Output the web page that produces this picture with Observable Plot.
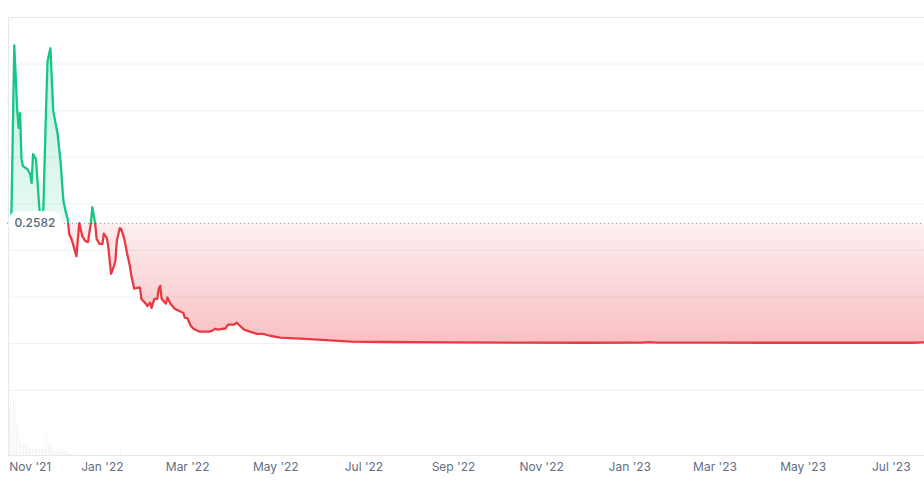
<!DOCTYPE html>
<html><head><meta charset="utf-8">
<script src="https://cdn.jsdelivr.net/npm/d3@7"></script>
<script src="https://cdn.jsdelivr.net/npm/@observablehq/plot@0.6"></script>
<style>
body{margin:0;background:#fff;font-family:Inter, "Noto Sans", sans-serif}
#wrap{position:relative;width:924px;height:492px;overflow:hidden}
#wrap svg{position:absolute;left:0;top:0}
</style></head><body><div id="wrap"></div>
<script>
// ---- data ----
const baseline = 0.2582;
const xStart = "2021-10-28", xEnd = "2023-07-24";

const priceDates = [
 "2021-10-28","2021-10-29","2021-10-30","2021-11-01","2021-11-03","2021-11-04","2021-11-05","2021-11-06","2021-11-07","2021-11-10",
 "2021-11-12","2021-11-13","2021-11-14","2021-11-16","2021-11-18","2021-11-19","2021-11-21","2021-11-23","2021-11-24","2021-11-26",
 "2021-11-28","2021-12-01","2021-12-03","2021-12-05","2021-12-07","2021-12-08","2021-12-09","2021-12-11","2021-12-12","2021-12-14",
 "2021-12-16","2021-12-18","2021-12-20","2021-12-22","2021-12-24","2021-12-25","2021-12-27","2021-12-28","2021-12-30","2022-01-01",
 "2022-01-02","2022-01-04","2022-01-05","2022-01-07","2022-01-09","2022-01-10","2022-01-11","2022-01-13","2022-01-14","2022-01-16",
 "2022-01-18","2022-01-20","2022-01-21","2022-01-23","2022-01-25","2022-01-27","2022-01-28","2022-01-31","2022-02-01","2022-02-03",
 "2022-02-04","2022-02-06","2022-02-08","2022-02-09","2022-02-10","2022-02-11","2022-02-14","2022-02-15","2022-02-17","2022-02-20",
 "2022-02-24","2022-02-26","2022-02-27","2022-03-01","2022-03-03","2022-03-05","2022-03-09","2022-03-12","2022-03-16","2022-03-18",
 "2022-03-20","2022-03-22","2022-03-25","2022-03-27","2022-03-29","2022-04-02","2022-04-04","2022-04-06","2022-04-09","2022-04-13",
 "2022-04-18","2022-04-22","2022-04-27","2022-05-04","2022-05-18","2022-05-30","2022-06-22","2022-07-15","2022-08-30","2022-10-15",
 "2022-12-01","2023-01-10","2023-01-14","2023-01-20","2023-03-01","2023-04-15","2023-06-01","2023-07-15","2023-07-24"
];
const priceValues = [
 0.2582,0.262,0.275,0.640,0.503,0.463,0.495,0.396,0.381,0.375,
 0.364,0.345,0.407,0.396,0.306,0.268,0.278,0.505,0.606,0.634,
 0.499,0.450,0.392,0.306,0.278,0.268,0.236,0.221,0.210,0.188,
 0.259,0.231,0.221,0.218,0.259,0.293,0.257,0.225,0.214,0.214,
 0.236,0.227,0.210,0.150,0.167,0.178,0.221,0.248,0.246,0.227,
 0.195,0.167,0.146,0.118,0.120,0.120,0.096,0.086,0.081,0.088,
 0.077,0.096,0.096,0.118,0.124,0.096,0.086,0.099,0.086,0.075,
 0.069,0.066,0.056,0.054,0.039,0.032,0.026,0.026,0.026,0.028,
 0.032,0.030,0.032,0.032,0.041,0.041,0.045,0.039,0.030,0.026,
 0.021,0.021,0.017,0.013,0.011,0.0086,0.0043,0.0036,0.0028,0.0022,
 0.0020,0.0022,0.0035,0.0024,0.0021,0.0020,0.0020,0.0020,0.0026
];

const volDates = [
 "2021-10-28","2021-10-29","2021-10-30","2021-10-31","2021-11-01","2021-11-02","2021-11-03","2021-11-04","2021-11-05","2021-11-06",
 "2021-11-07","2021-11-08","2021-11-09","2021-11-10","2021-11-11","2021-11-12","2021-11-13","2021-11-14","2021-11-15","2021-11-16",
 "2021-11-17","2021-11-18","2021-11-19","2021-11-20","2021-11-21","2021-11-22","2021-11-23","2021-11-24","2021-11-25","2021-11-26",
 "2021-11-27","2021-11-28","2021-11-29","2021-11-30","2021-12-01","2021-12-02","2021-12-03","2021-12-04","2021-12-05","2021-12-06",
 "2021-12-07","2021-12-08","2021-12-09","2021-12-10","2021-12-11","2021-12-12","2021-12-13","2021-12-15","2021-12-18","2021-12-23",
 "2021-12-30","2022-01-03","2022-01-06","2022-01-09","2022-01-12","2022-01-13","2022-01-16","2022-01-22","2022-02-10","2022-02-17",
 "2022-03-10","2023-01-14"
];
const volValues = [
 4.8,5.2,2.6,6.3,5.5,3.2,3.0,1.9,1.2,1.1,
 1.0,1.1,1.1,0.6,0.7,0.7,1.0,0.6,0.7,0.7,
 0.6,0.6,0.6,0.6,0.8,0.9,2.6,1.3,1.3,1.3,
 0.7,0.5,0.5,0.7,0.7,0.4,0.4,0.7,0.5,0.4,
 0.3,0.2,0.2,0.15,0.15,0.2,0.15,0.3,0.15,0.15,
 0.1,0.15,0.2,0.25,0.4,0.6,0.2,0.15,0.1,0.1,
 0.1,0.08
];

const tickDates = ["2021-11-01","2022-01-01","2022-03-01","2022-05-01","2022-07-01","2022-09-01","2022-11-01","2023-01-01","2023-03-01","2023-05-01","2023-07-01"];
const tickLabels = ["Nov '21","Jan '22","Mar '22","May '22","Jul '22","Sep '22","Nov '22","Jan '23","Mar '23","May '23","Jul '23"];
const gridValues = [-0.1,0,0.1,0.2,0.3,0.4,0.5,0.6];
const yMin = -0.24, yMax = 0.7;

// ---- tables ----
const price = priceDates.map((d,i)=>({date:new Date(d), v:priceValues[i]}));
const vol = volDates.map((d,i)=>({date:new Date(d), v:volValues[i]}));
const ticks = tickDates.map((d,i)=>({date:new Date(d), label:tickLabels[i]}));
const xDomain = [new Date(xStart), new Date(xEnd)];
const font = "Inter, 'Noto Sans', sans-serif";
const W = 924, H = 492;

const volPlot = Plot.plot({
  width: W, height: H, marginLeft: 8, marginRight: 0, marginTop: 389, marginBottom: 37,
  x: {domain: xDomain, axis: null},
  y: {domain: [0, 6.6], axis: null},
  style: {background: "transparent"},
  marks: [
    Plot.rectY(vol, {x: "date", y: "v", interval: d3.utcDay, fill: "#e6eaf0"})
  ]
});

const chart = Plot.plot({
  width: W, height: H, marginLeft: 8, marginRight: 0, marginTop: 17, marginBottom: 37,
  x: {domain: xDomain, axis: null},
  y: {domain: [yMin, yMax], axis: null},
  style: {background: "transparent", fontFamily: font, overflow: "visible"},
  marks: [
    Plot.ruleY(gridValues, {stroke: "#eef0f3", strokeWidth: 1}),
    Plot.ruleY([yMax, yMin], {stroke: "#e6e8ec", strokeWidth: 1}),
    Plot.ruleX([xDomain[0]], {stroke: "#e6e8ec", strokeWidth: 1}),
    Plot.areaY(price, {x: "date", y1: baseline, y2: "v", fill: "url(#gFill)"}),
    Plot.ruleY([baseline], {stroke: "#8f96a3", strokeWidth: 1, strokeDasharray: "1,3"}),
    Plot.line(price, {x: "date", y: "v", stroke: "url(#gLine)", strokeWidth: 2.3, strokeLinejoin: "round"}),
    Plot.text([baseline], {x: () => xDomain[0], y: d => d, text: d => d.toFixed(4), textAnchor: "start", dx: 6,
      fill: "#58667e", stroke: "white", strokeWidth: 14, strokeLinejoin: "round", fontSize: 12, fontWeight: 500}),
    Plot.text(ticks.slice(0,1), {x: "date", text: "label", frameAnchor: "bottom", dy: 15, dx: -5, textAnchor: "start", fill: "#616e85", fontSize: 12}),
    Plot.text(ticks.slice(1), {x: "date", text: "label", frameAnchor: "bottom", dy: 15, fill: "#616e85", fontSize: 12})
  ]
});

// gradients split at the baseline, positioned from the plot's own y scale
const ys = chart.scale("y");
const yTop = ys.apply(yMax), yZero = ys.apply(0), yB = ys.apply(baseline);
const off = (yB - yTop) / (yZero - yTop);
const defs = d3.select(chart).insert("defs", ":first-child");
function grad(id, stops) {
  const g = defs.append("linearGradient").attr("id", id).attr("gradientUnits", "userSpaceOnUse")
    .attr("x1", 0).attr("x2", 0).attr("y1", yTop).attr("y2", yZero);
  for (const [o, c, a] of stops) g.append("stop").attr("offset", o).attr("stop-color", c).attr("stop-opacity", a);
}
grad("gFill", [[0, "#16c784", 0.3], [off, "#16c784", 0.1], [off, "#ea3943", 0.08], [1, "#ea3943", 0.32]]);
grad("gLine", [[0, "#16c784", 1], [off, "#16c784", 1], [off, "#ea3943", 1], [1, "#ea3943", 1]]);

const wrap = document.getElementById("wrap");
wrap.appendChild(volPlot);
wrap.appendChild(chart);
</script>
</body></html>
